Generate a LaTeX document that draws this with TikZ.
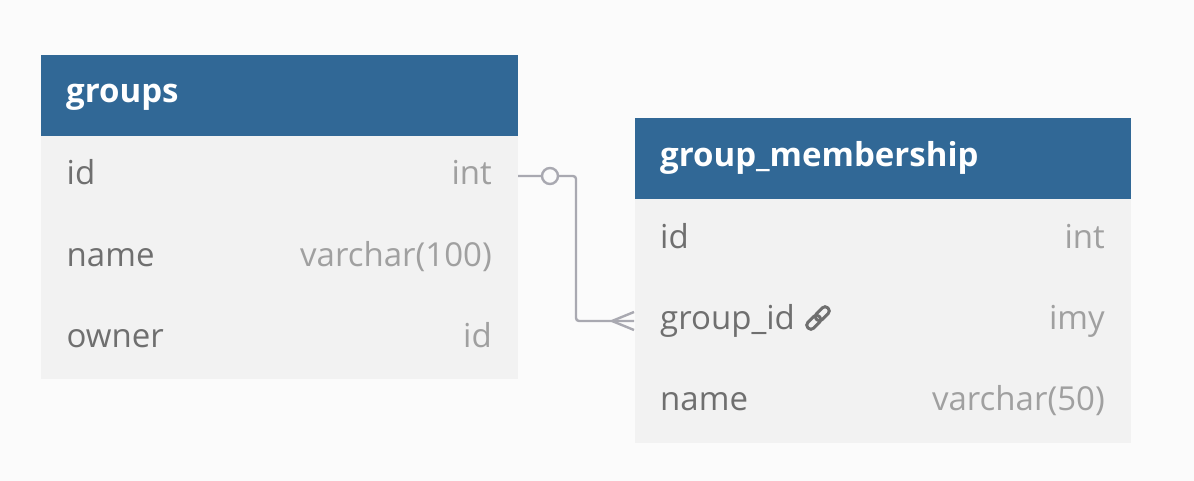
\documentclass[tikz,border=0pt]{standalone}
\usepackage{fontspec}
\setmainfont{Open Sans}
\definecolor{bgc}{HTML}{FBFBFB}
\definecolor{headc}{HTML}{316896}
\definecolor{bodyc}{HTML}{F2F2F2}
\definecolor{namec}{HTML}{6F6F6F}
\definecolor{typec}{HTML}{A0A0A0}
\definecolor{linkc}{HTML}{A9A9B1}
\tikzset{
  x=1pt,y=-1pt,
  tablebody/.style={fill=bodyc,draw=none,minimum width=#1,minimum height=0,inner sep=0pt,anchor=north west},
  headbox/.style={fill=headc,draw=none,minimum width=#1,minimum height=81pt,inner sep=0pt,anchor=north west},
  headtext/.style={text=white,font=\fontsize{33}{33}\selectfont\bfseries,anchor=base west,inner sep=0pt},
  fieldname/.style={text=namec,font=\fontsize{33}{33}\selectfont,anchor=base west,inner sep=0pt},
  fieldtype/.style={text=typec,font=\fontsize{33}{33}\selectfont,anchor=base east,inner sep=0pt},
  rel/.style={draw=linkc,line width=2.4pt},
}
\begin{document}
\begin{tikzpicture}
\useasboundingbox (0,0) rectangle (1194,481);
\fill[bgc] (0,0) rectangle (1194,481);
% groups
\node[tablebody=476.5pt,minimum height=324pt] (gbody) at (41,55) {};
\node[headbox=476.5pt] (ghead) at (41,55) {};
\node[headtext] (gt) at (66,103) {groups};
\node[fieldname] (g1n) at (66.5,185) {id};
\node[fieldtype] (g1t) at (492,185) {int};
\node[fieldname] (g2n) at (66.5,266) {name};
\node[fieldtype] (g2t) at (492,266) {varchar(100)};
\node[fieldname] (g3n) at (66.5,347) {owner};
\node[fieldtype] (g3t) at (492,347) {id};
% membership
\node[tablebody=496.5pt,minimum height=325pt] (mbody) at (634.5,118) {};
\node[headbox=496.5pt] (mhead) at (634.5,118) {};
\node[headtext] (mt) at (660,167) {group\_membership};
\node[fieldname] (m1n) at (660,248) {id};
\node[fieldtype] (m1t) at (1105,248) {int};
\node[fieldname] (m2n) at (660,329) {group\_id};
\node[fieldtype] (m2t) at (1105,329) {imy};
\node[fieldname] (m3n) at (660,410) {name};
\node[fieldtype] (m3t) at (1105,410) {varchar(50)};
% link icon
\begin{scope}[shift={(818,318)},rotate=45]
\draw[namec,line width=3pt,rounded corners=3.5pt] (-14,-4) rectangle (2,4);
\draw[namec,line width=3pt,rounded corners=3.5pt] (-2,-4) rectangle (14,4);
\end{scope}
% connector
\coordinate (a) at (518,176);
\coordinate (b) at (634,321);
\coordinate (ft) at (612,321);
\draw[rel,rounded corners=3pt] (a) -- (576,176) -- (576,321) -- (b);
\draw[rel] (ft) -- (634,312);
\draw[rel] (ft) -- (634,330);
\node[circle,draw=linkc,line width=2.4pt,fill=bgc,minimum size=16pt,inner sep=0pt] (opt) at (550,176) {};
\end{tikzpicture}
\end{document}
